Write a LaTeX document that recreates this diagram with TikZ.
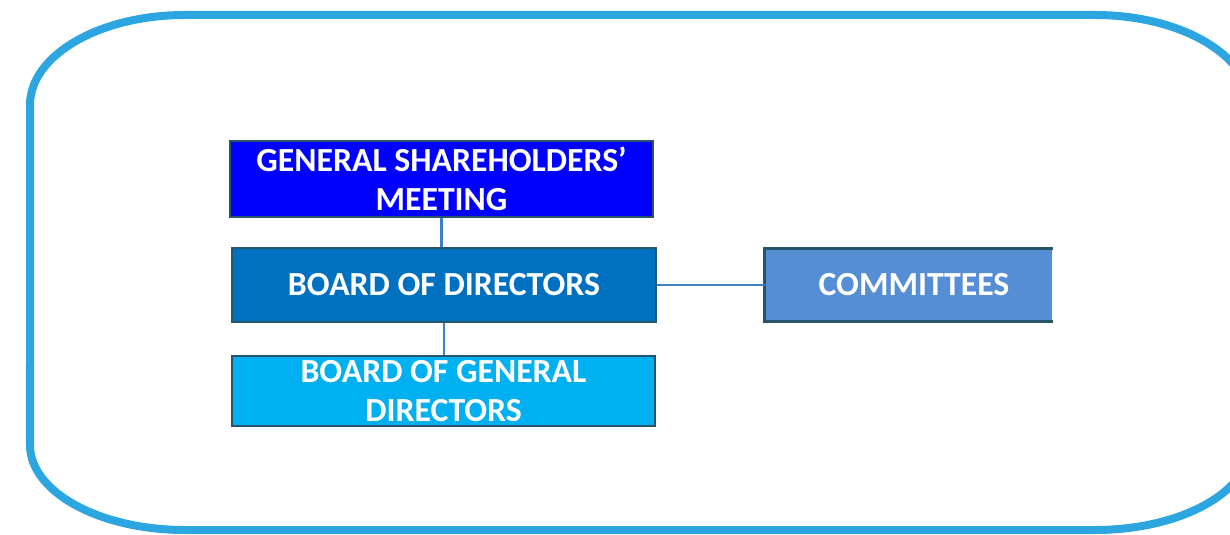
\documentclass[tikz,border=0pt]{standalone}
\usepackage{fontspec}
\setmainfont{Carlito}
\usepackage{tikz}
\definecolor{frameblue}{RGB}{44,166,224}
\definecolor{edgeteal}{RGB}{38,85,105}
\definecolor{linkblue}{RGB}{62,128,196}
\definecolor{gsmblue}{RGB}{0,0,255}
\definecolor{bodblue}{RGB}{0,112,192}
\definecolor{bogdblue}{RGB}{0,176,240}
\definecolor{comblue}{RGB}{85,142,213}
\tikzset{
    orgbox/.style = {draw=edgeteal, line width=1.5pt, text=white, align=center,
        font=\fontsize{19.2}{22.2}\selectfont\bfseries, inner sep=0pt},
    link/.style = {draw=linkblue, line width=1.4pt}
}

\begin{document}
\begin{tikzpicture}
                    \useasboundingbox (0,0) rectangle (24.6,10.68);
                    % outer frame
                    \draw[frameblue, line width=0.16cm] (3.7,10.38) -- (21.9,10.38)
                        arc[start angle=90, end angle=0, x radius=3.1cm, y radius=1.8cm]
                        -- (25.0,1.78)
                        arc[start angle=0, end angle=-90, x radius=3.1cm, y radius=1.7cm]
                        -- (3.7,0.08)
                        arc[start angle=270, end angle=180, x radius=3.1cm, y radius=1.7cm]
                        -- (0.6,8.58)
                        arc[start angle=180, end angle=90, x radius=3.1cm, y radius=1.8cm];
                    % boxes
                    \node[orgbox, fill=gsmblue, minimum width=8.46cm, minimum height=1.52cm] (gsm) at (8.83,7.10) {GENERAL SHAREHOLDERS’\\MEETING};
                    \node[orgbox, fill=bodblue, minimum width=8.48cm, minimum height=1.48cm] (bod) at (8.88,4.98) {BOARD OF DIRECTORS};
                    \node[orgbox, fill=bogdblue, minimum width=8.46cm, minimum height=1.40cm] (bogd) at (8.87,2.86) {BOARD OF GENERAL\\DIRECTORS};
                    \node[orgbox, draw=none, fill=comblue, minimum width=5.72cm, minimum height=1.40cm] (com) at (18.18,4.98) {\hspace{0.2cm}COMMITTEES};
                    \draw[edgeteal, line width=1.5pt] (com.north east) -- (com.north west) -- (com.south west) -- (com.south east);
                    % links
                    \draw[link] (gsm.south) -- (gsm.south |- bod.north);
                    \draw[link] (bod.south) -- (bod.south |- bogd.north);
                    \draw[link] (bod.east) -- (com.west);
                \end{tikzpicture}
\end{document}
